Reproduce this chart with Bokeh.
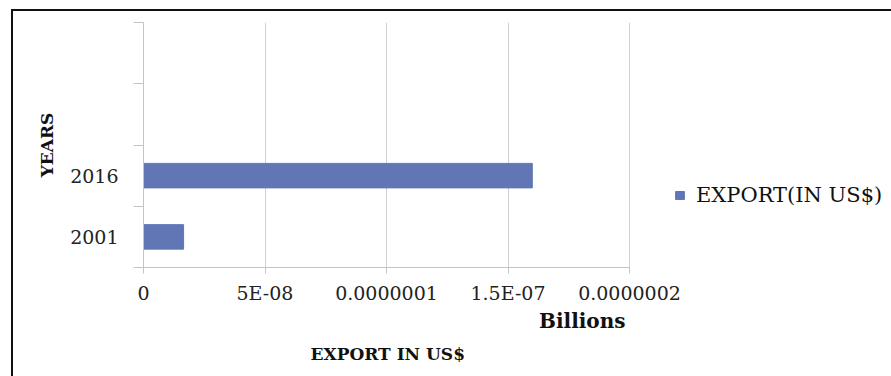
from bokeh.plotting import figure
from bokeh.models import (Range1d, FixedTicker, Legend, LegendItem, Title)
from bokeh.embed import file_html
from bokeh.resources import INLINE

# ---- data ----
years = ["2001", "2016"]
export_billions = [1.65e-8, 1.60e-7]
x_ticks = [0, 5e-8, 1e-7, 1.5e-7, 2e-7]
x_tick_labels = ["0", "5E-08", "0.0000001", "1.5E-07", "0.0000002"]
series_name = "EXPORT(IN US$)"

BAR = "#6076b5"
FONT = "DejaVu Serif"

# layout: chart area spans 143..629 px for 0..2e-7; the frame is extended to the
# right edge so the legend can sit inside it.
W, LEFT = 891, 143
AXIS_PX = 486
x_max = x_ticks[-1] * (W - LEFT) / AXIS_PX

p = figure(width=W, height=376, output_backend="svg", toolbar_location=None,
           x_range=Range1d(0, x_max), y_range=Range1d(-0.5, 3.5),
           min_border_left=LEFT, min_border_right=0,
           min_border_top=22, min_border_bottom=109)
p.outline_line_color = None
p.background_fill_color = "white"
p.border_fill_color = None
p.styles = {
    "background": "linear-gradient(#111,#111) 11px 9px / 2px 100% no-repeat, "
                  "linear-gradient(#111,#111) 11px 9px / 100% 2px no-repeat, white"
}

pos = list(range(len(years)))
r = p.hbar(y=pos, right=export_billions, left=0, height=0.4,
           fill_color=BAR, line_color=BAR)

# x axis
xa = p.xaxis[0]
xa.bounds = (x_ticks[0], x_ticks[-1])
xa.ticker = FixedTicker(ticks=x_ticks, minor_ticks=[])
xa.major_label_overrides = {t: l for t, l in zip(x_ticks, x_tick_labels)}
xa.axis_line_color = "#c4c4c4"
xa.major_tick_line_color = "#c4c4c4"
xa.major_tick_out = 6
xa.major_tick_in = 0
xa.major_label_standoff = 8
xa.major_label_text_font = FONT
xa.major_label_text_font_size = "19px"
xa.major_label_text_color = "#222222"

# y axis
ya = p.yaxis[0]
ya.ticker = FixedTicker(ticks=pos, minor_ticks=[-0.5, 0.5, 1.5, 2.5, 3.5])
ya.major_label_overrides = {i: y for i, y in zip(pos, years)}
ya.axis_line_color = "#c4c4c4"
ya.major_tick_line_color = None
ya.major_tick_out = 0
ya.major_tick_in = 0
ya.minor_tick_line_color = "#c4c4c4"
ya.minor_tick_out = 10
ya.minor_tick_in = 0
ya.major_label_standoff = 15
ya.major_label_text_font = FONT
ya.major_label_text_font_size = "19px"
ya.major_label_text_color = "#222222"
ya.axis_label = "YEARS"
ya.axis_label_text_font = FONT
ya.axis_label_text_font_size = "17px"
ya.axis_label_text_font_style = "bold"
ya.axis_label_text_color = "#111111"
ya.axis_label_standoff = 10

p.xgrid.ticker = FixedTicker(ticks=x_ticks[1:])
p.xgrid.grid_line_color = "#d0d0d0"
p.ygrid.grid_line_color = None

p.add_layout(Title(text="Billions", align="right", offset=W - LEFT - AXIS_PX + 4,
                   standoff=0,
                   text_font=FONT, text_font_size="20px", text_font_style="bold",
                   text_color="#111111"), "below")
p.add_layout(Title(text="EXPORT IN US$", align="left", offset=167, standoff=18,
                   text_font=FONT, text_font_size="17px", text_font_style="bold",
                   text_color="#111111"), "below")

legend = Legend(items=[LegendItem(label=series_name, renderers=[r])],
                location=(531, 60), orientation="vertical",
                padding=0, margin=0, border_line_color=None,
                background_fill_alpha=0, glyph_width=11, glyph_height=10,
                label_height=20, label_standoff=11,
                label_text_font=FONT, label_text_font_size="21px",
                label_text_color="#111111")
p.add_layout(legend, "center")

open("out.html", "w").write(file_html(p, INLINE))
